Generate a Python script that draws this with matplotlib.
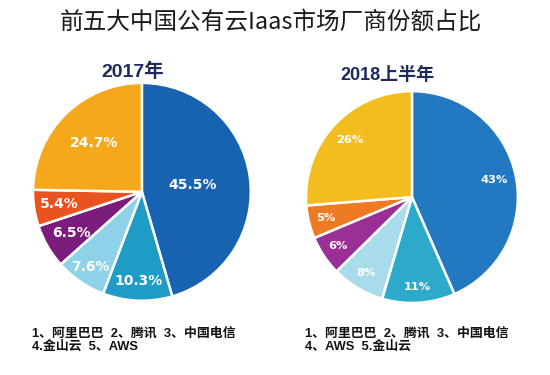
import numpy as np
import matplotlib
matplotlib.use('Agg')
import matplotlib.pyplot as plt

plt.rcParams['font.family'] = ['Noto Sans CJK SC', 'DejaVu Sans']
MIXED = ['Liberation Sans', 'Noto Sans CJK SC']

# data
vendors_2017 = ['阿里巴巴', '腾讯', '中国电信', '金山云', 'AWS', '其他']
shares_2017 = [45.5, 10.3, 7.6, 6.5, 5.4, 24.7]
labels_2017 = ['45.5%', '10.3%', '7.6%', '6.5%', '5.4%', '24.7%']

vendors_2018 = ['阿里巴巴', '腾讯', '中国电信', 'AWS', '金山云', '其他']
shares_2018 = [43, 11, 8, 6, 5, 26]
labels_2018 = ['43%', '11%', '8%', '6%', '5%', '26%']

colors_2017 = ['#1862B2', '#1F9CC6', '#8DD2E6', '#7B1C7C', '#E8531F', '#F6A81C']
colors_2018 = ['#2379C1', '#2DA9C9', '#A9DCEB', '#9C2F95', '#EE7B23', '#F3BC1F']


def draw_pie(ax, values, labels, colors, dists, fontsize):
    wedges, _ = ax.pie(values, colors=colors, startangle=90, counterclock=False,
                       wedgeprops=dict(edgecolor='white', linewidth=1.8))
    for w, lab, d in zip(wedges, labels, dists):
        ang = np.deg2rad((w.theta1 + w.theta2) / 2)
        ax.text(d * np.cos(ang), d * np.sin(ang), lab, ha='center', va='center',
                color='white', fontsize=fontsize, fontweight='bold', family='DejaVu Sans')
    ax.set_xlim(-1.01, 1.01)
    ax.set_ylim(-1.01, 1.01)
    ax.set_aspect('equal')
    ax.axis('off')


fig = plt.figure(figsize=(5.5, 3.75), dpi=100)

ax1 = fig.add_axes([0.058, 0.195, 0.4, 0.587])
draw_pie(ax1, shares_2017, labels_2017, colors_2017,
         [0.47, 0.82, 0.84, 0.75, 0.77, 0.63], 10)

ax2 = fig.add_axes([0.5545, 0.189, 0.389, 0.571])
draw_pie(ax2, shares_2018, labels_2018, colors_2018,
         [0.79, 0.85, 0.84, 0.84, 0.84, 0.80], 8.2)

fig.text(0.493, 0.94, '前五大中国公有云Iaas市场厂商份额占比', ha='center', va='center',
         fontsize=17, color='#1a1a1a')
fig.text(0.242, 0.808, '2017年', ha='center', va='center', fontsize=14,
         fontweight='bold', color='#1C2B5C', family=MIXED)
fig.text(0.704, 0.80, '2018上半年', ha='center', va='center', fontsize=13,
         fontweight='bold', color='#1C2B5C', family=MIXED)

legend_2017 = '1、阿里巴巴  2、腾讯  3、中国电信\n4.金山云  5、AWS'
legend_2018 = '1、阿里巴巴  2、腾讯  3、中国电信\n4、AWS  5.金山云'
fig.text(0.058, 0.092, legend_2017, ha='left', va='center', fontsize=9.3,
         fontweight='bold', color='#111111', linespacing=1.1, family=MIXED)
fig.text(0.555, 0.092, legend_2018, ha='left', va='center', fontsize=9.3,
         fontweight='bold', color='#111111', linespacing=1.1, family=MIXED)

plt.savefig('out.png', dpi=100, facecolor='white')
